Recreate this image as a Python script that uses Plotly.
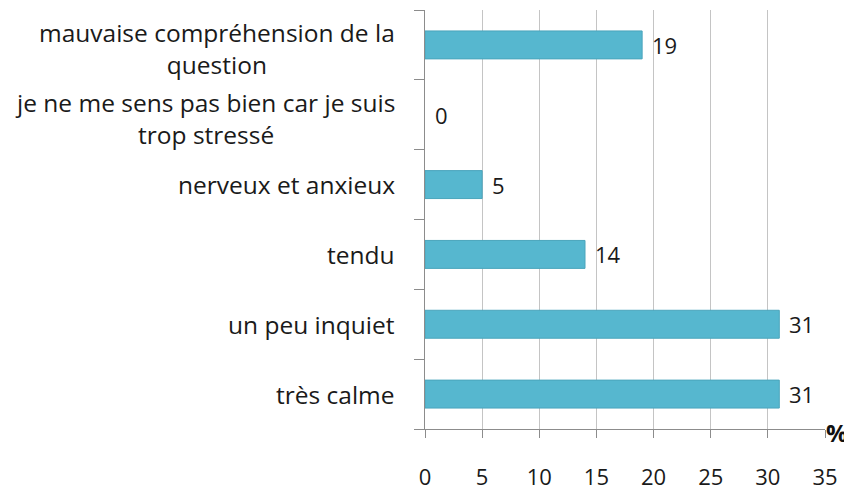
import plotly.graph_objects as go

categories = [
    "très calme",
    "un peu inquiet",
    "tendu",
    "nerveux et anxieux",
    "je ne me sens pas bien car je suis<br>trop stressé",
    "mauvaise compréhension de la<br>question",
]
values = [31, 31, 14, 5, 0, 19]
x_ticks = [0, 5, 10, 15, 20, 25, 30, 35]

FONT = "Open Sans"
TXT = "#1a1a1a"
fig = go.Figure(
    go.Bar(
        y=categories,
        x=values,
        orientation="h",
        marker=dict(color="#56b7cf",
                    line=dict(color="#4aa5bc", width=[1 if v > 0 else 0 for v in values])),
        width=0.4,
        hoverinfo="x+y",
    )
)

annotations = []
for c, v in zip(categories, values):
    annotations.append(dict(
        x=v, xref="x", y=c, yref="y", text=str(v), showarrow=False,
        xanchor="left", yanchor="middle", xshift=8,
        font=dict(family=FONT, size=22, color=TXT),
    ))
    multi = "<br>" in c
    annotations.append(dict(
        x=0, xref="paper", y=c, yref="y", text=c, showarrow=False,
        xanchor="right", yanchor="middle", align="center",
        xshift=-28, yshift=-4 if multi else 0,
        font=dict(family=FONT, size=24.5, color=TXT),
    ))
annotations.append(dict(
    x=1, xref="paper", y=0, yref="paper", text="<b>%</b>", showarrow=False,
    xanchor="center", yanchor="middle", xshift=12, yshift=-3,
    font=dict(family=FONT, size=24, color="#111111"),
))

# the page body adds an 8px offset, so the figure is sized to fit the window
fig.update_layout(
    width=844, height=479,
    margin=dict(l=417, r=27, t=2, b=58),
    plot_bgcolor="white", paper_bgcolor="white",
    showlegend=False,
    annotations=annotations,
    xaxis=dict(
        range=[0, 35], tickvals=x_ticks, ticktext=[str(t) for t in x_ticks],
        showgrid=True, gridcolor="#c4c4c4", gridwidth=1,
        showline=True, linecolor="#8c8c8c", linewidth=1,
        ticks="outside", ticklen=8, tickcolor="#8c8c8c",
        tickfont=dict(family=FONT, size=22, color=TXT),
        ticklabelstandoff=21, zeroline=False, fixedrange=True,
        automargin=False,
    ),
    yaxis=dict(
        categoryorder="array", categoryarray=categories,
        range=[-0.5, 5.5], showticklabels=False,
        showline=True, linecolor="#8c8c8c", linewidth=1,
        ticks="outside", ticklen=10, tickcolor="#8c8c8c",
        tickson="boundaries", showgrid=False, fixedrange=True,
        automargin=False,
    ),
)

fig.write_html("out.html")
